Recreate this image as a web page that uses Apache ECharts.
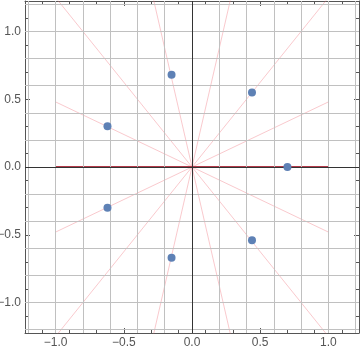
<!DOCTYPE html>
<html>
<head>
<meta charset="utf-8">
<script src="https://cdn.jsdelivr.net/npm/echarts@6/dist/echarts.min.js"></script>
<style>html,body{margin:0;padding:0;background:#fff;}#c{width:360px;height:353px;}</style>
</head>
<body>
<div id="c"></div>
<script>
// Points (blue dots)
var pointX = [0.70, 0.44, -0.15, -0.62, -0.62, -0.15, 0.44];
var pointY = [0.00, 0.55, 0.68, 0.30, -0.30, -0.67, -0.54];
// Light pink lines through origin: from (lineX0, lineY0) to (lineX1, lineY1)
var lineX0 = [-1, -1, -1, -1, -1, -1];
var lineY0 = [-0.48, -1.25, -4.38, 4.38, 1.25, 0.48];
var lineX1 = [1, 1, 1, 1, 1, 1];
var lineY1 = [0.48, 1.25, 4.38, -4.38, -1.25, -0.48];
// Red line
var redX = [-1, 1];
var redY = [0, 0];
// Axes
var axisMin = -1.225, axisMax = 1.225;
var gridValues = [-1.2, -1.0, -0.8, -0.6, -0.4, -0.2, 0, 0.2, 0.4, 0.6, 0.8, 1.0, 1.2];
var zeroValues = [0];

var frameColor = '#555';
var gridColor = '#c0c0c0';
function fmt(v){ var s = v.toFixed(1); return s.replace('-', '\u2212'); }

function mkAxis(pos, labels) {
  return {
    type: 'value', position: pos, min: axisMin, max: axisMax, splitNumber: 5,
    axisLine: { show: true, onZero: false, lineStyle: { color: frameColor, width: 1 } },
    axisTick: { show: true, inside: true, length: 5, lineStyle: { color: frameColor } },
    minorTick: { show: true, splitNumber: 5, length: 3, lineStyle: { color: frameColor } },
    splitLine: { show: false },
    axisLabel: {
      show: labels, showMinLabel: false, showMaxLabel: false,
      color: '#555', fontFamily: 'Liberation Sans', fontSize: 12, margin: 4,
      formatter: fmt
    }
  };
}

var series = [];
// grid lines and zero axes via markLine
series.push({
  type: 'line', data: [], xAxisIndex: 0, yAxisIndex: 0, silent: true, z: 1,
  markLine: {
    silent: true, symbol: 'none', animation: false, label: { show: false },
    lineStyle: { color: gridColor, width: 1, type: 'solid' },
    data: gridValues.map(function(v){ return { xAxis: v }; })
      .concat(gridValues.map(function(v){ return { yAxis: v }; }))
  }
});
series.push({
  type: 'line', data: [], xAxisIndex: 0, yAxisIndex: 0, silent: true, z: 2,
  markLine: {
    silent: true, symbol: 'none', animation: false, label: { show: false },
    lineStyle: { color: '#333', width: 1, type: 'solid' },
    data: zeroValues.map(function(v){ return { xAxis: v }; })
      .concat(zeroValues.map(function(v){ return { yAxis: v }; }))
  }
});
for (var i = 0; i < lineX0.length; i++) {
  series.push({
    type: 'line', xAxisIndex: 0, yAxisIndex: 0, z: 3, clip: true, silent: true,
    showSymbol: false, symbol: 'none', animation: false,
    lineStyle: { color: 'rgba(240,120,130,0.4)', width: 1 },
    data: [[lineX0[i], lineY0[i]], [lineX1[i], lineY1[i]]]
  });
}
series.push({
  type: 'line', xAxisIndex: 0, yAxisIndex: 0, z: 4, clip: true, silent: true,
  showSymbol: false, symbol: 'none', animation: false,
  lineStyle: { color: '#b33a4a', width: 2 },
  data: redX.map(function(x, k){ return [x, redY[k]]; })
});
series.push({
  type: 'scatter', xAxisIndex: 0, yAxisIndex: 0, z: 5, symbolSize: 8, animation: false,
  itemStyle: { color: '#5e81b5', opacity: 1 },
  data: pointX.map(function(x, k){ return [x, pointY[k]]; })
});

var chart = echarts.init(document.getElementById('c'), null, { renderer: 'canvas' });
chart.setOption({
  animation: false,
  backgroundColor: '#fff',
  grid: { left: 25, right: 1, top: 1, bottom: 20, containLabel: false, outerBoundsMode: 'none' },
  xAxis: [mkAxis('bottom', true), mkAxis('top', false)],
  yAxis: [mkAxis('left', true), mkAxis('right', false)],
  series: series
});
</script>
</body>
</html>
